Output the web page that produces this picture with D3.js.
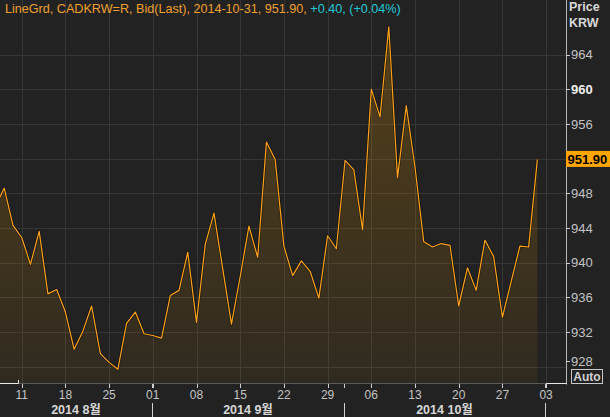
<!DOCTYPE html>
<html>
<head>
<meta charset="utf-8">
<script src="https://cdn.jsdelivr.net/npm/d3@7"></script>
<style>
  html,body{margin:0;padding:0;background:#222222;}
  svg{display:block;}
</style>
</head>
<body>
<svg id="chart" width="610" height="417"></svg>
<script>
// ---- data (weekday closes, CADKRW=R) ----
const dates = [
  "2014-08-06","2014-08-07","2014-08-08",
  "2014-08-11","2014-08-12","2014-08-13","2014-08-14","2014-08-15",
  "2014-08-18","2014-08-19","2014-08-20","2014-08-21","2014-08-22",
  "2014-08-25","2014-08-26","2014-08-27","2014-08-28","2014-08-29",
  "2014-09-01","2014-09-02","2014-09-03","2014-09-04","2014-09-05",
  "2014-09-08","2014-09-09","2014-09-10","2014-09-11","2014-09-12",
  "2014-09-15","2014-09-16","2014-09-17","2014-09-18","2014-09-19",
  "2014-09-22","2014-09-23","2014-09-24","2014-09-25","2014-09-26",
  "2014-09-29","2014-09-30","2014-10-01","2014-10-02","2014-10-03",
  "2014-10-06","2014-10-07","2014-10-08","2014-10-09","2014-10-10",
  "2014-10-13","2014-10-14","2014-10-15","2014-10-16","2014-10-17",
  "2014-10-20","2014-10-21","2014-10-22","2014-10-23","2014-10-24",
  "2014-10-27","2014-10-28","2014-10-29","2014-10-30","2014-10-31"
];
const values = [
  946.5, 948.6, 944.3,
  942.9, 939.8, 943.6, 936.4, 936.9,
  934.3, 930.0, 932.1, 935.0, 929.5,
  928.5, 927.7, 933.0, 934.3, 931.8,
  931.6, 931.3, 936.2, 936.8, 941.2,
  933.1, 942.1, 945.7, 939.3, 932.9,
  938.4, 944.2, 940.6, 953.9, 951.9,
  941.9, 938.5, 940.2, 939.0, 935.9,
  943.1, 941.6, 951.8, 950.7, 943.8,
  960.0, 956.8, 967.2, 949.8, 958.1,
  951.0, 942.4, 941.8, 942.2, 942.0,
  935.0, 939.4, 936.8, 942.6, 940.7,
  933.7, 937.8, 941.9, 941.8, 951.9
];
const yTicks = [928, 932, 936, 940, 944, 948, 952, 956, 960, 964];
const yMajorTick = 960;
const xTickDates = ["2014-08-11","2014-08-18","2014-08-25","2014-09-01","2014-09-08",
  "2014-09-15","2014-09-22","2014-09-29","2014-10-06","2014-10-13","2014-10-20",
  "2014-10-27","2014-11-03"];
const xTickLabels = ["11","18","25","01","08","15","22","29","06","13","20","27","03"];
const monthStarts = ["2014-09-01","2014-10-01","2014-11-03"];
const monthLabels = ["2014 8월","2014 9월","2014 10월"];
const lastValue = 951.90;
const headerMain = "LineGrd, CADKRW=R, Bid(Last), 2014-10-31, 951.90, ";
const headerChange = "+0.40, (+0.04%)";

// ---- layout ----
const W = 610, H = 417;
const plotR = 566, plotB = 384;
const FONT = "'Liberation Sans', 'Noto Sans CJK KR', sans-serif";
const parse = d3.timeParse("%Y-%m-%d");
const start = parse(dates[0]);
// trading-day index (weekends skipped)
const tIndex = s => d3.timeDays(start, parse(s)).filter(t => t.getDay() % 6 !== 0).length;

const x = d3.scaleLinear().domain([0, 63]).range([-4.52, 546.1]);
const y = d3.scaleLinear().domain([928, 964]).range([366.7, 54.5]);

const data = dates.map((d, i) => ({ k: tIndex(d), v: values[i] }));

const svg = d3.select("#chart");
svg.append("rect").attr("width", W).attr("height", H).attr("fill", "#222222");

const defs = svg.append("defs");
defs.append("clipPath").attr("id", "clip")
  .append("rect").attr("x", 0).attr("y", 0).attr("width", plotR).attr("height", plotB);
const grad = defs.append("linearGradient").attr("id", "fillGrad")
  .attr("gradientUnits", "userSpaceOnUse").attr("x1", 0).attr("x2", 0).attr("y1", 20).attr("y2", plotB);
grad.append("stop").attr("offset", 0).attr("stop-color", "#ffa500").attr("stop-opacity", 0.24);
grad.append("stop").attr("offset", 1).attr("stop-color", "#ffa500").attr("stop-opacity", 0.06);

// grid
const grid = svg.append("g");
grid.selectAll("line.h").data(yTicks).join("line")
  .attr("x1", 0).attr("x2", plotR)
  .attr("y1", d => Math.round(y(d)) + 0.5).attr("y2", d => Math.round(y(d)) + 0.5)
  .attr("stroke", "#363636").attr("stroke-width", 1);
grid.selectAll("line.v").data(xTickDates).join("line")
  .attr("y1", 0).attr("y2", plotB)
  .attr("x1", d => Math.round(x(tIndex(d))) + 0.5).attr("x2", d => Math.round(x(tIndex(d))) + 0.5)
  .attr("stroke", "#363636").attr("stroke-width", 1);

// area + line
const g = svg.append("g").attr("clip-path", "url(#clip)");
const area = d3.area().x(d => x(d.k)).y0(plotB).y1(d => y(d.v));
const line = d3.line().x(d => x(d.k)).y(d => y(d.v));
g.append("path").datum(data).attr("d", area).attr("fill", "url(#fillGrad)");
g.append("path").datum(data).attr("d", line).attr("fill", "none")
  .attr("stroke", "#000").attr("stroke-opacity", 0.45).attr("stroke-width", 2.6)
  .attr("stroke-linejoin", "round");
g.append("path").datum(data).attr("d", line).attr("fill", "none")
  .attr("stroke", "#ffa31a").attr("stroke-width", 1.2).attr("stroke-linejoin", "round");

// header
const hdr = svg.append("text").attr("x", 5).attr("y", 12.5)
  .attr("font-family", FONT).attr("font-size", 12.6);
hdr.append("tspan").attr("fill", "#f0a030").text(headerMain);
hdr.append("tspan").attr("fill", "#22c8d8").text(headerChange);

// right axis
svg.append("line").attr("x1", plotR + 0.5).attr("x2", plotR + 0.5).attr("y1", 0).attr("y2", plotB + 0.5)
  .attr("stroke", "#b8b8b8");
const labelTicks = yTicks.filter(v => Math.abs(v - lastValue) > 2.5);
const ra = svg.append("g");
ra.selectAll("line").data(labelTicks).join("line")
  .attr("x1", plotR).attr("x2", plotR + 4)
  .attr("y1", d => Math.round(Math.min(y(d), 361)) + 0.5).attr("y2", d => Math.round(Math.min(y(d), 361)) + 0.5)
  .attr("stroke", "#c8c8c8");
ra.selectAll("text").data(labelTicks).join("text")
  .attr("x", plotR + 5).attr("y", d => Math.min(y(d), 361)).attr("dy", "0.36em")
  .attr("font-family", FONT).attr("font-size", 13)
  .attr("font-weight", d => d === yMajorTick ? "bold" : "normal")
  .attr("fill", d => d === yMajorTick ? "#f0f0f0" : "#c4c4c4")
  .text(d => d);

svg.append("text").attr("x", 569).attr("y", 11).attr("font-family", FONT)
  .attr("font-size", 12.5).attr("font-weight", "bold").attr("fill", "#d8d8d8").text("Price");
svg.append("text").attr("x", 569).attr("y", 27).attr("font-family", FONT)
  .attr("font-size", 12.5).attr("font-weight", "bold").attr("fill", "#d8d8d8").text("KRW");

// last value box
const ly = y(lastValue);
svg.append("rect").attr("x", plotR).attr("y", ly - 8.5).attr("width", W - plotR).attr("height", 16)
  .attr("fill", "#ffa500");
svg.append("text").attr("x", plotR + 1.5).attr("y", ly).attr("dy", "0.36em")
  .attr("font-family", FONT).attr("font-size", 13).attr("font-weight", "bold")
  .attr("fill", "#000").text(lastValue.toFixed(2));

// Auto box
svg.append("rect").attr("x", 571.5).attr("y", 369.5).attr("width", 31).attr("height", 14)
  .attr("fill", "#222").attr("stroke", "#c8c8c8");
svg.append("text").attr("x", 587).attr("y", 380.5).attr("text-anchor", "middle")
  .attr("font-family", FONT).attr("font-size", 12).attr("font-weight", "bold")
  .attr("fill", "#d0d0d0").text("Auto");

// bottom border
svg.append("line").attr("x1", 0).attr("x2", plotR).attr("y1", plotB - 0.5).attr("y2", plotB - 0.5)
  .attr("stroke", "#5a5a5a");
svg.append("path").attr("d", `M0,${plotB - 0.5}H18.5V${plotB - 4}`).attr("fill", "none").attr("stroke", "#e8e8e8");
svg.append("path").attr("d", `M${x(63)},${plotB - 0.5}H${plotR + 0.5}`).attr("fill", "none").attr("stroke", "#e8e8e8");

// bottom axis
const ba = svg.append("g");
ba.selectAll("line.t").data(xTickDates).join("line")
  .attr("x1", d => Math.round(x(tIndex(d))) + 0.5).attr("x2", d => Math.round(x(tIndex(d))) + 0.5)
  .attr("y1", plotB).attr("y2", plotB + 4).attr("stroke", "#d0d0d0");
ba.selectAll("text.t").data(xTickDates).join("text")
  .attr("x", d => x(tIndex(d))).attr("y", 399).attr("text-anchor", "middle")
  .attr("font-family", FONT).attr("font-size", 12).attr("fill", "#c4c4c4")
  .text((d, i) => xTickLabels[i]);

const sepX = monthStarts.map(d => Math.round(x(tIndex(d))) - 1);
ba.selectAll("line.s").data(sepX).join("line")
  .attr("x1", d => d + 0.5).attr("x2", d => d + 0.5).attr("y1", 403).attr("y2", H)
  .attr("stroke", "#d0d0d0");
ba.selectAll("line.st").data(sepX).join("line")
  .attr("x1", d => d + 0.5).attr("x2", d => d + 0.5).attr("y1", plotB).attr("y2", plotB + 4)
  .attr("stroke", "#d0d0d0");
const segBounds = [0].concat(sepX);
ba.selectAll("text.m").data(monthLabels).join("text")
  .attr("x", (d, i) => (segBounds[i] + segBounds[i + 1]) / 2).attr("y", 414)
  .attr("text-anchor", "middle").attr("font-family", FONT).attr("font-size", 12.5)
  .attr("font-weight", "bold").attr("fill", "#d8d8d8").text(d => d);
</script>
</body>
</html>
